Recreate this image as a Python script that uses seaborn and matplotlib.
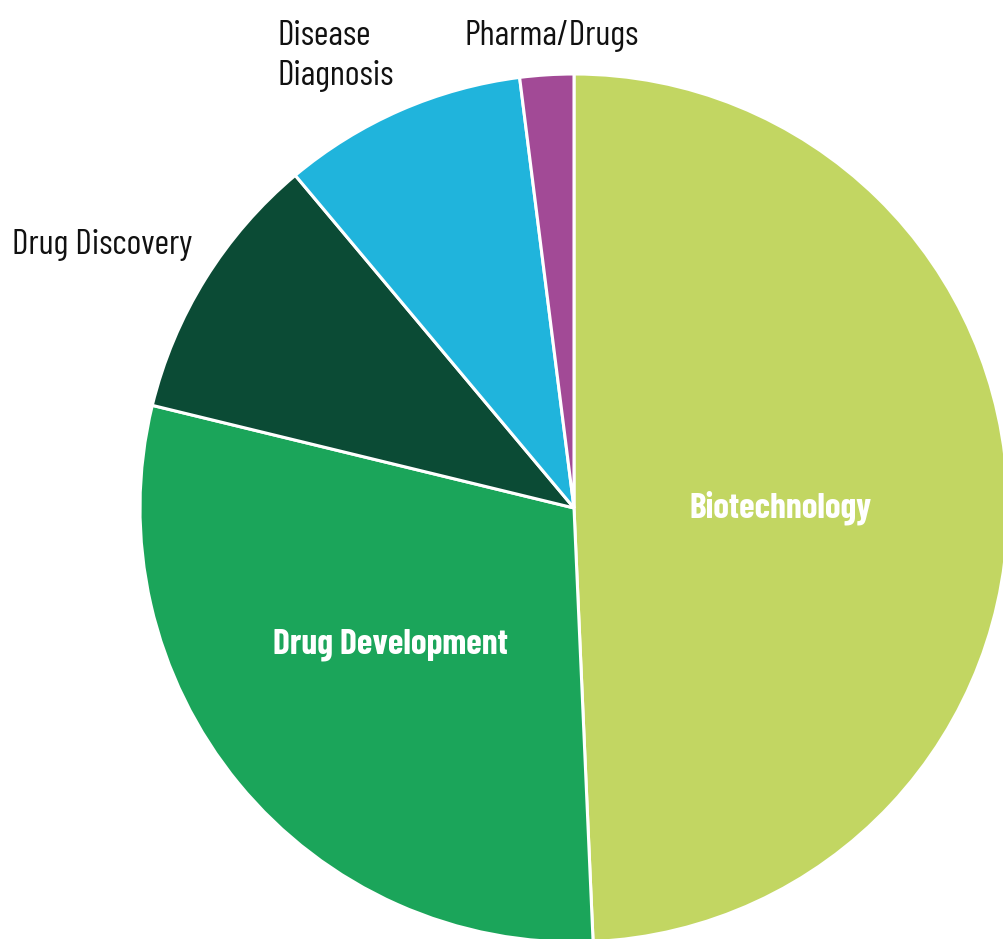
import matplotlib
matplotlib.use("Agg")
import matplotlib.pyplot as plt
import seaborn as sns

categories = ["Biotechnology", "Drug Development", "Drug Discovery", "Disease Diagnosis", "Pharma/Drugs"]
shares = [49.3, 29.5, 10.1, 9.1, 2.0]
colors = ["#C2D662", "#1BA55A", "#0B4B35", "#20B4DC", "#A24A96"]

sns.set_theme(style="white")
plt.rcParams["font.family"] = ["Barlow Condensed", "Roboto Condensed", "DejaVu Sans"]

W, H = 1004, 939
cx, cy, R = 574, 508, 434
fig = plt.figure(figsize=(W / 100, H / 100), dpi=100)
ax = fig.add_axes([(cx - R) / W, (H - cy - R) / H, 2 * R / W, 2 * R / H])

ax.pie(shares, colors=colors, startangle=90, counterclock=False, radius=1,
       wedgeprops=dict(edgecolor="white", linewidth=2.2))
ax.set_xlim(-1, 1)
ax.set_ylim(-1, 1)
ax.set_aspect("equal")
ax.axis("off")

def d(px, py):
    return (px - cx) / R, (cy - py) / R

fs = 25.5
fsb = 25.5
ax.text(*d(781, 508), "Biotechnology", color="white", fontweight="bold", fontsize=fsb,
        ha="center", va="center", clip_on=False)
ax.text(*d(390, 645), "Drug Development", color="white", fontweight="bold", fontsize=fsb,
        ha="center", va="center", clip_on=False)
ax.text(*d(552, 36), "Pharma/Drugs", color="#111111", fontsize=fs,
        ha="center", va="center", clip_on=False)
ax.text(*d(278, 56), "Disease\nDiagnosis", color="#111111", fontsize=fs,
        ha="left", va="center", linespacing=1.3, clip_on=False)
ax.text(*d(12, 245), "Drug Discovery", color="#111111", fontsize=fs,
        ha="left", va="center", clip_on=False)

fig.savefig("out.png", dpi=100, facecolor="white")
